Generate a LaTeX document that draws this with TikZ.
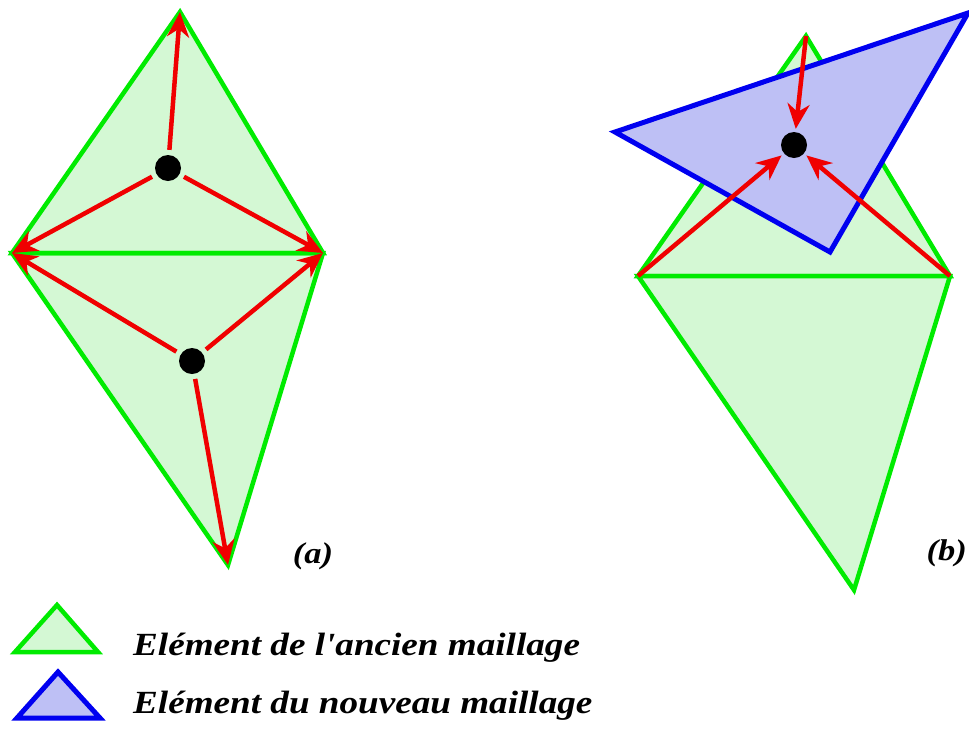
\documentclass[tikz,border=0pt]{standalone}
\usepackage{fontspec}
\setmainfont{Liberation Serif}
\newfontfamily\legfont[FakeStretch=1.15]{Liberation Serif}
\usetikzlibrary{arrows.meta}
\definecolor{gline}{RGB}{0,235,0}
\definecolor{gfill}{RGB}{212,248,212}
\definecolor{bline}{RGB}{0,0,240}
\definecolor{bfill}{RGB}{190,192,245}
\definecolor{rline}{RGB}{240,0,0}
\tikzset{
  oldel/.style={draw=gline,fill=gfill,line width=4.5pt,line join=miter},
  newel/.style={draw=bline,fill=bfill,line width=5pt,line join=miter},
  redarr/.style={draw=rline,line width=4.5pt,-{Stealth[length=25pt,width=22pt,inset=8pt]}},
  dot/.style={circle,fill=black,inner sep=0pt,minimum size=26pt},
  lbl/.style={font=\legfont\fontsize{30}{34}\selectfont\bfseries\itshape,inner sep=0pt},
  legtxt/.style={font=\legfont\fontsize{32.3}{36}\selectfont\bfseries\itshape,inner sep=0pt,anchor=base west}
}
\begin{document}
\begin{tikzpicture}[x=1pt,y=-1pt]
\useasboundingbox (0,0) rectangle (969,729);
% ---------- (a) ----------
\coordinate (aT) at (180,12);
\coordinate (aL) at (12,253);
\coordinate (aR) at (323,253);
\coordinate (aB) at (228,565);
\fill[gfill] (aT) -- (aR) -- (aB) -- (aL) -- cycle;
\draw[oldel,fill=none] (aT) -- (aR) -- (aL) -- cycle;
\draw[oldel,fill=none] (aL) -- (aR) -- (aB) -- cycle;
\node[dot] (aD1) at (168,168) {};
\node[dot] (aD2) at (192,361) {};
\draw[redarr,shorten <=5pt] (aD1) -- (aT);
\draw[redarr,shorten <=5pt] (aD1) -- (aL);
\draw[redarr,shorten <=5pt] (aD1) -- (aR);
\draw[redarr,shorten <=5pt] (aD2) -- (aL);
\draw[redarr,shorten <=5pt] (aD2) -- (aR);
\draw[redarr,shorten <=5pt] (aD2) -- (aB);
\node[lbl] (la) at (313,556) {(a)};
% ---------- (b) ----------
\coordinate (bT) at (806,36);
\coordinate (bL) at (638,276);
\coordinate (bR) at (950,276);
\coordinate (bB) at (854,590);
\draw[oldel] (bT) -- (bR) -- (bL) -- cycle;
\draw[oldel] (bL) -- (bR) -- (bB) -- cycle;
\coordinate (nL) at (615,132);
\coordinate (nR) at (968,13);
\coordinate (nB) at (830,252);
\draw[newel] (nL) -- (nR) -- (nB) -- cycle;
\node[dot] (bD) at (794,145) {};
\draw[redarr,shorten >=3pt] (bT) -- (bD);
\draw[redarr,shorten >=3pt] (bL) -- (bD);
\draw[redarr,shorten >=3pt] (bR) -- (bD);
\node[lbl,anchor=east] (lb) at (967,553) {(b)};
% ---------- legend ----------
\coordinate (g1) at (57,605);
\coordinate (g2) at (98,652);
\coordinate (g3) at (15,652);
\draw[oldel] (g1) -- (g2) -- (g3) -- cycle;
\coordinate (b1) at (58,672);
\coordinate (b2) at (100,718);
\coordinate (b3) at (17,718);
\draw[newel] (b1) -- (b2) -- (b3) -- cycle;
\node[legtxt] (t1) at (133,655) {Elément de l\symbol{39}ancien maillage};
\node[legtxt] (t2) at (133,713) {Elément du nouveau maillage};
\end{tikzpicture}
\end{document}
